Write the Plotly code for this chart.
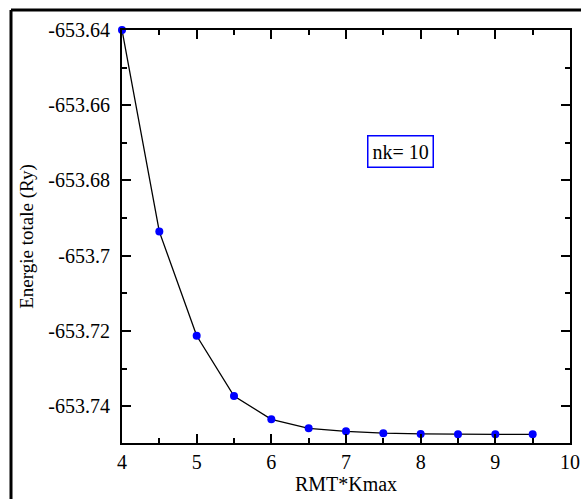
import plotly.graph_objects as go

rmt_kmax = [4, 4.5, 5, 5.5, 6, 6.5, 7, 7.5, 8, 8.5, 9, 9.5]
energy = [-653.6400, -653.6936, -653.7213, -653.7373, -653.7435, -653.7459,
          -653.7467, -653.7472, -653.7474, -653.7475, -653.7475, -653.7475]
y_ticks = [-653.64, -653.66, -653.68, -653.70, -653.72, -653.74]
y_tick_text = ["-653.64", "-653.66", "-653.68", "-653.7", "-653.72", "-653.74"]
label_text = "nk= 10"
label_pos = (7.735, -653.6724)

FONT = "Liberation Serif, Times New Roman, serif"
W, H = 581, 500
L, R, T, B = 122, 11, 30, 57
PW, PH = W - L - R, H - T - B

fig = go.Figure()
fig.add_trace(go.Scatter(
    x=rmt_kmax, y=energy, mode="lines+markers",
    line=dict(color="black", width=1.3),
    marker=dict(color="#0000ff", size=8),
    cliponaxis=False, showlegend=False,
))

fig.add_annotation(
    x=label_pos[0], y=label_pos[1], text=label_text, showarrow=False,
    font=dict(family=FONT, size=20, color="black"),
    bordercolor="#0000ff", borderwidth=1.5, borderpad=4, bgcolor="white",
)

# outer frame (only left and top edges fall inside the picture)
fx0 = (11 - L) / PW
fy1 = 1 + (T - 10) / PH
fx1 = (W - L) / PW
fy0 = -(B - 1) / PH
fig.add_shape(type="line", xref="paper", yref="paper",
              x0=fx0, x1=fx0, y0=fy0, y1=fy1,
              line=dict(color="black", width=3), layer="above")
fig.add_shape(type="line", xref="paper", yref="paper",
              x0=fx0, x1=fx1, y0=fy1, y1=fy1,
              line=dict(color="black", width=3), layer="above")

axis_common = dict(
    showline=True, linecolor="black", linewidth=2, mirror="ticks",
    ticks="inside", ticklen=9, tickwidth=2, tickcolor="black",
    showgrid=False, zeroline=False, automargin=False,
    tickfont=dict(family=FONT, size=20, color="black"),
)

fig.update_xaxes(
    range=[4, 10], tickvals=[4, 5, 6, 7, 8, 9, 10],
    minor=dict(ticks="inside", ticklen=5, tickwidth=2, tickcolor="black",
               tickvals=[4.5, 5.5, 6.5, 7.5, 8.5, 9.5], showgrid=False),
    title=dict(text="RMT*Kmax", font=dict(family=FONT, size=20, color="black"), standoff=2),
    **axis_common,
)
fig.update_yaxes(
    range=[-653.7498, -653.64], tickvals=y_ticks, ticktext=y_tick_text,
    minor=dict(ticks="inside", ticklen=5, tickwidth=2, tickcolor="black",
               tickvals=[-653.65, -653.67, -653.69, -653.71, -653.73], showgrid=False),
    title=dict(text="Energie totale (Ry)", font=dict(family=FONT, size=19, color="black"), standoff=10),
    ticklabelstandoff=6,
    **axis_common,
)

fig.update_layout(
    width=W, height=H,
    margin=dict(l=L, r=R, t=T, b=B),
    paper_bgcolor="white", plot_bgcolor="white",
)

fig.write_html("out.html")
